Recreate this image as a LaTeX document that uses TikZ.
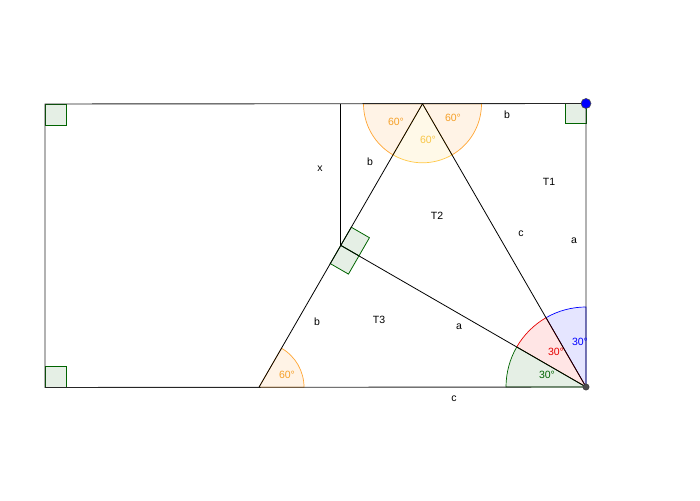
\documentclass[tikz,border=0pt]{standalone}
\usepackage{fontspec}
\setmainfont{Liberation Sans}
\usetikzlibrary{calc}
\definecolor{ggorange}{RGB}{255,165,50}
\definecolor{ggorangetxt}{RGB}{245,160,40}
\definecolor{ggorangefill}{RGB}{255,243,230}
\definecolor{ggyellow}{RGB}{255,200,70}
\definecolor{ggyellowtxt}{RGB}{248,198,70}
\definecolor{ggyellowfill}{RGB}{255,249,232}
\definecolor{ggblue}{RGB}{0,0,255}
\definecolor{ggbluefill}{RGB}{229,229,255}
\definecolor{ggred}{RGB}{230,0,0}
\definecolor{ggredfill}{RGB}{255,229,229}
\definecolor{gggreen}{RGB}{0,100,0}
\definecolor{gggreenfill}{RGB}{229,239,229}
\begin{document}
\begin{tikzpicture}[x=1pt,y=1pt,
  lbl/.style={font=\fontsize{10.5}{12}\selectfont, inner sep=0pt},
  seg/.style={draw=black, line width=0.8pt},
  edge/.style={draw=black!85, line width=0.9pt},
  rightmark/.style={draw=gggreen, fill=gggreenfill, line width=0.8pt},
  osector/.style={draw=ggorange, fill=ggorangefill, line width=0.7pt},
  ysector/.style={draw=ggyellow, fill=ggyellowfill, line width=0.7pt}]
\useasboundingbox (0,0) rectangle (700,500);
% points
\coordinate (TL) at (45,396);
\coordinate (TR) at (586,396.5);
\coordinate (BR) at (586,113);
\coordinate (BL) at (45,112.5);
\coordinate (A) at (422.5,396.2);
\coordinate (P) at (259,112.8);
\coordinate (F) at (340.75,254.6);
\coordinate (X) at (340.75,396.2);
% angle sectors at A
\filldraw[osector] (A) -- ++(180:59) arc[start angle=180,end angle=240,radius=59] -- cycle;
\filldraw[osector] (A) -- ++(300:59) arc[start angle=300,end angle=360,radius=59] -- cycle;
\filldraw[ysector] (A) -- ++(240:59) arc[start angle=240,end angle=300,radius=59] -- cycle;
% angle sector at P
\filldraw[osector] (P) -- ++(0:45) arc[start angle=0,end angle=60,radius=45] -- cycle;
% angle sectors at BR
\filldraw[draw=ggblue, fill=ggbluefill, line width=0.7pt] (BR) -- ++(90:80) arc[start angle=90,end angle=120,radius=80] -- cycle;
\filldraw[draw=ggred, fill=ggredfill, line width=0.7pt] (BR) -- ++(120:80) arc[start angle=120,end angle=150,radius=80] -- cycle;
\filldraw[draw=gggreen, fill=gggreenfill, line width=0.7pt] (BR) -- ++(150:80) arc[start angle=150,end angle=180,radius=80] -- cycle;
% right angle marks
\filldraw[rightmark] (TL) rectangle ++(21,-21);
\filldraw[rightmark] (TR) rectangle ++(-21,-20);
\filldraw[rightmark] (BL) rectangle ++(21,21);
\filldraw[rightmark] (F) -- ($(F)+(60:21)$) -- ($(F)+(60:21)+(-30:21)$) -- ($(F)+(-30:21)$) -- cycle;
\filldraw[rightmark] (F) -- ($(F)+(-30:21)$) -- ($(F)+(-30:21)+(240:21)$) -- ($(F)+(240:21)$) -- cycle;
% rectangle
\draw[edge] (TL) -- (TR) -- (BR) -- (BL) -- cycle;
% segments
\draw[seg] (A) -- (P);
\draw[seg] (A) -- (BR);
\draw[seg] (F) -- (BR);
\draw[seg] (X) -- (F);
% labels
\node[lbl] (lx) at (320,331) {x};
\node[lbl] (lb1) at (370,338) {b};
\node[lbl] (lT2) at (437,284) {T2};
\node[lbl] (lc1) at (521,266) {c};
\node[lbl] (la1) at (574,259) {a};
\node[lbl] (lT1) at (549,318) {T1};
\node[lbl] (lb2) at (507,385) {b};
\node[lbl] (lb3) at (317,178) {b};
\node[lbl] (lT3) at (379,180) {T3};
\node[lbl] (la2) at (459,173) {a};
\node[lbl] (lc2) at (454,101) {c};
\node[lbl, text=ggorangetxt] (g1) at (396,378) {60°};
\node[lbl, text=ggorangetxt] (g2) at (453,382) {60°};
\node[lbl, text=ggyellowtxt] (g3) at (428,360) {60°};
\node[lbl, text=ggorangetxt] (g4) at (287,125) {60°};
\node[lbl, text=ggblue] (g5) at (580,158) {30°};
\node[lbl, text=ggred] (g6) at (556,148) {30°};
\node[lbl, text=gggreen] (g7) at (547,125) {30°};
% dots
\filldraw[fill=ggblue, draw=black!70, line width=0.6pt] (TR) circle[radius=5];
\filldraw[fill=black!70, draw=black!80] (BR) circle[radius=3.2];
\end{tikzpicture}
\end{document}
